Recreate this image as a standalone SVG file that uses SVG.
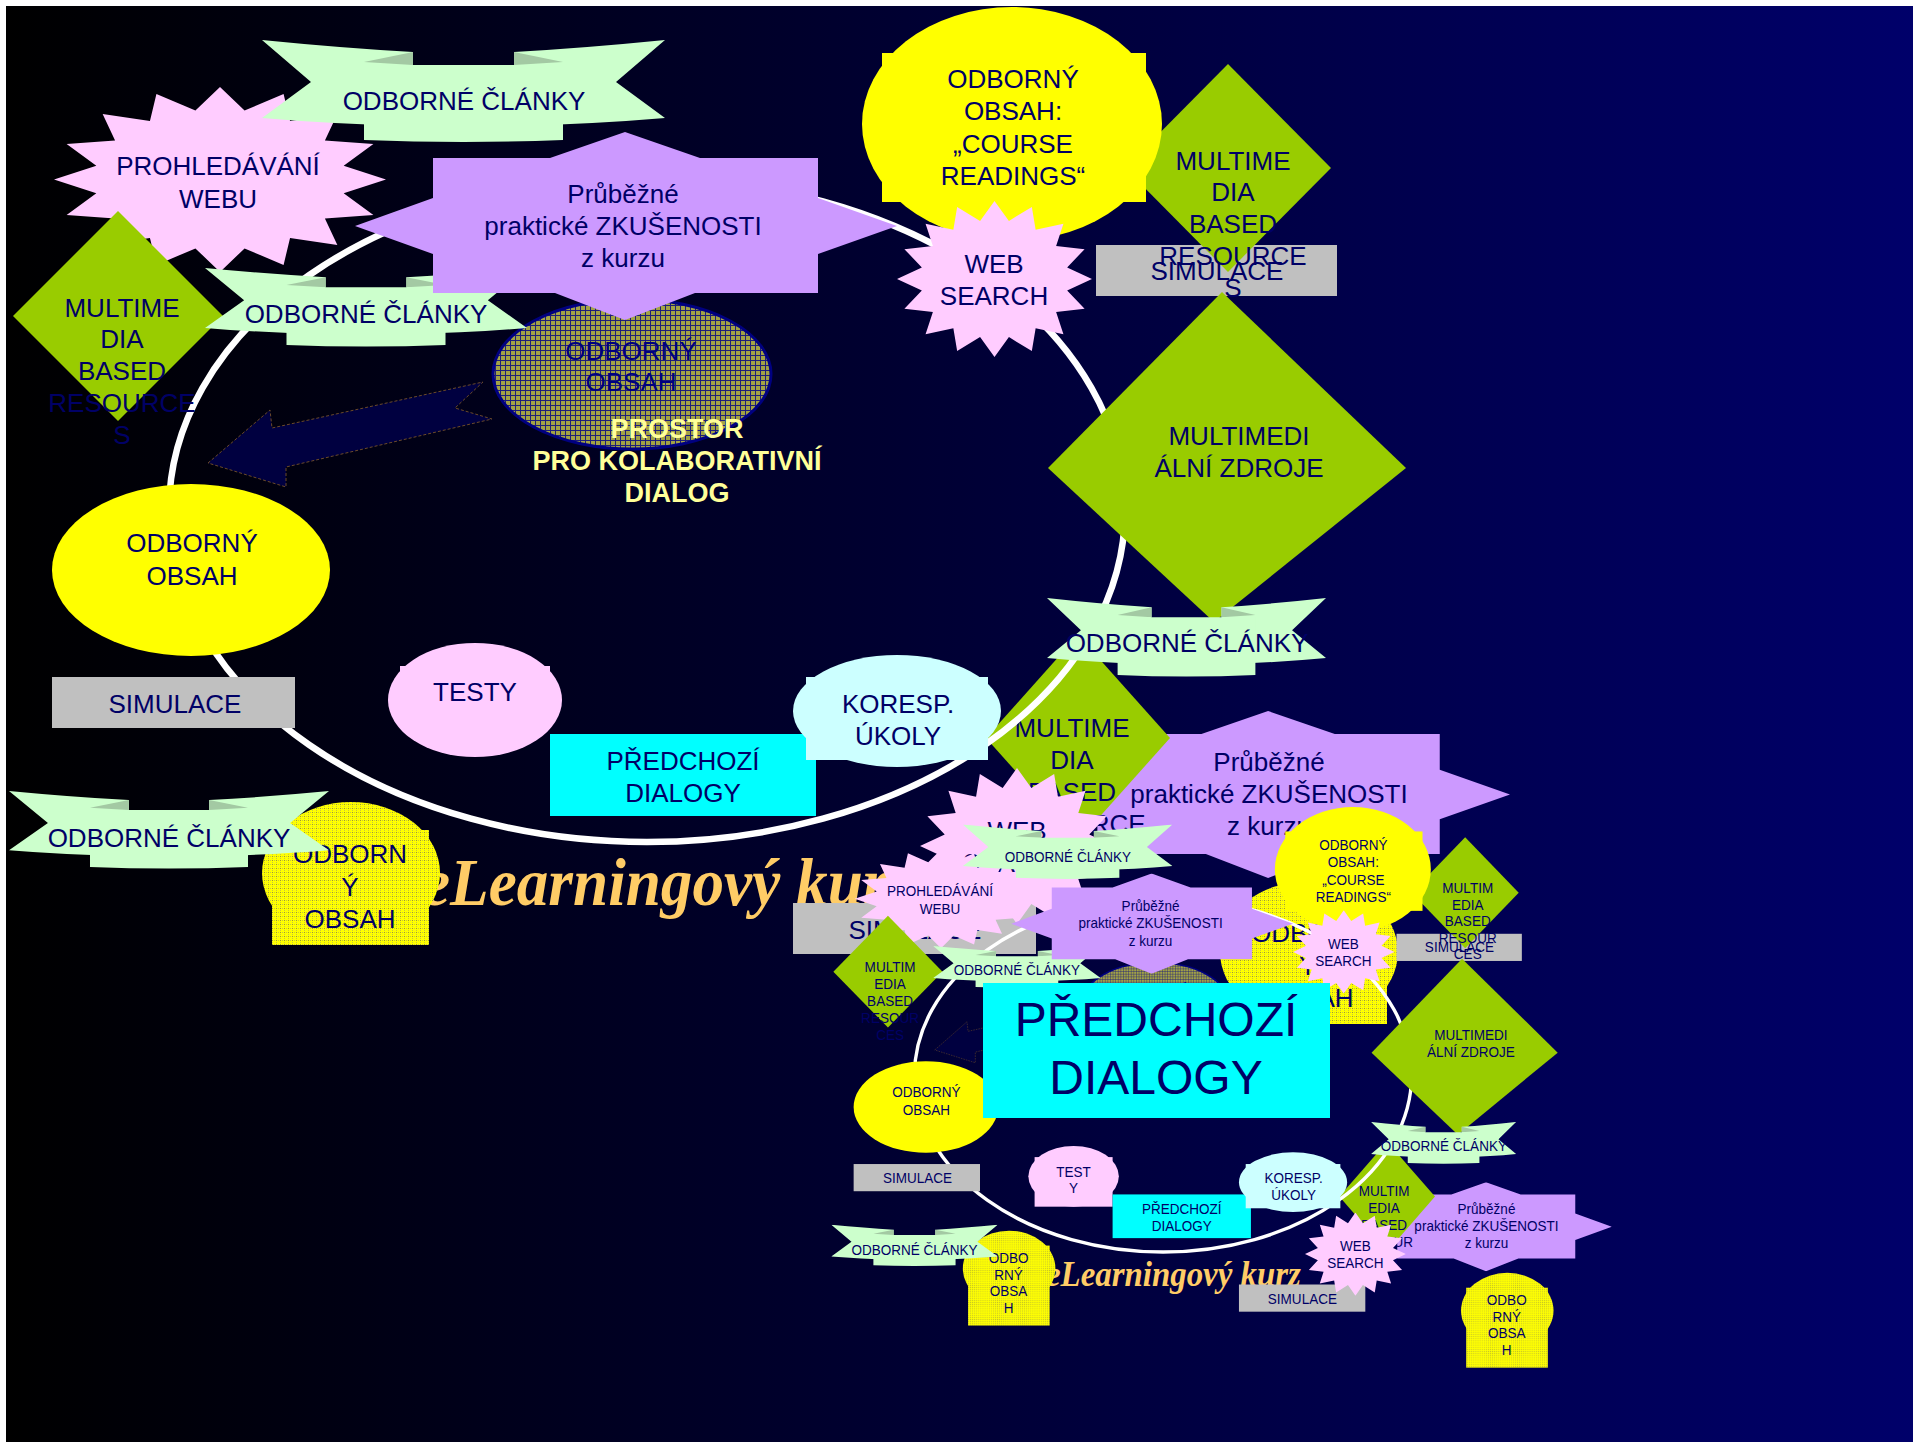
<svg xmlns="http://www.w3.org/2000/svg" width="1913" height="1442" viewBox="0 0 1913 1442">
<style>
.n{font-family:"Liberation Sans",Arial,sans-serif;font-size:26px;fill:#000066;text-anchor:middle}
.dim{fill:#000080}
.pr{font-family:"Liberation Sans",Arial,sans-serif;font-size:27px;font-weight:bold;fill:#FFFF99;text-anchor:middle}
.big{font-size:48px}
.scr{font-family:"Liberation Serif","DejaVu Serif",serif;font-style:italic;font-weight:bold;font-size:68px;fill:#FFCC66}
.yel{fill:#FFFF00}.pink{fill:#FFCCFF}.gray{fill:#C0C0C0}.grn{fill:#99CC00}.cyan{fill:#00FFFF}.lcy{fill:#CCFFFF}
.ring{fill:none;stroke:#FFFFFF;stroke-width:6.5}
.arr{fill:#000040;stroke:#6B4A2A;stroke-width:1;stroke-dasharray:3 2}
</style>
<defs>
<linearGradient id="bg" x1="0" y1="0" x2="1" y2="0"><stop offset="0" stop-color="#000000"/><stop offset="1" stop-color="#00006A"/></linearGradient>
<pattern id="pNavy" width="5" height="5" patternUnits="userSpaceOnUse"><rect width="5" height="5" fill="#A2A245"/><path d="M0,0.5H5M0.5,0V5" stroke="#1E1E78" stroke-width="1"/></pattern>
<pattern id="pYel" width="4" height="4" patternUnits="userSpaceOnUse"><rect width="4" height="4" fill="#FFFF00"/><rect width="1" height="1" fill="#9A9A30"/><rect x="2" width="1" height="1" fill="#C8C840"/><rect y="2" width="1" height="1" fill="#C8C840"/></pattern>
<symbol id="star" viewBox="-100 -100 200 200" preserveAspectRatio="none"><path fill="#FFCCFF" d="M0,-100 L14.8,-74.5 L38.3,-92.4 L42.2,-63.2 L70.7,-70.7 L63.2,-42.2 L92.4,-38.3 L74.5,-14.8 L100,0 L74.5,14.8 L92.4,38.3 L63.2,42.2 L70.7,70.7 L42.2,63.2 L38.3,92.4 L14.8,74.5 L0,100 L-14.8,74.5 L-38.3,92.4 L-42.2,63.2 L-70.7,70.7 L-63.2,42.2 L-92.4,38.3 L-74.5,14.8 L-100,0 L-74.5,-14.8 L-92.4,-38.3 L-63.2,-42.2 L-70.7,-70.7 L-42.2,-63.2 L-38.3,-92.4 L-14.8,-74.5 Z"/></symbol>
<symbol id="rib" viewBox="0 0 403 104" preserveAspectRatio="none">
<path fill="#CCFFCC" d="M0,0 Q80,8 151,12 L151,86 Q70,84 0,78 L49,42 Z"/>
<path fill="#CCFFCC" d="M403,0 Q323,8 252,12 L252,86 Q333,84 403,78 L354,42 Z"/>
<path fill="#A3C9A3" d="M102,22 L151,12 L151,25 Z"/>
<path fill="#A3C9A3" d="M301,22 L252,12 L252,25 Z"/>
<path fill="#CCFFCC" d="M102,25 L301,25 L301,100 Q201,104 102,100 Z"/>
</symbol>
<symbol id="pur" viewBox="0 0 542 188" preserveAspectRatio="none"><path fill="#CC99FF" d="M78,26 L195,26 L270,0 L345,26 L463,26 L463,66 L542,94 L463,122 L463,161 L340,161 L270,188 L200,161 L78,161 L78,122 L0,94 L78,66 Z"/></symbol>
</defs>
<rect width="1913" height="1442" fill="#FFFFFF"/>
<rect x="6" y="6" width="1907" height="1436" fill="url(#bg)"/>

<g id="main">
<g id="n-e2-prubezne"><use href="#pur" x="1028" y="711" width="482" height="167"/><text class="n"><tspan x="1269" y="771">Průběžné</tspan><tspan x="1269" y="803">praktické ZKUŠENOSTI</tspan><tspan x="1269" y="835">z kurzu</tspan></text></g>
<g id="n-e1-multimedia"><polygon class="grn" points="1078,635 1170,738 1078,841 986,738"/><text class="n"><tspan x="1072" y="737">MULTIME</tspan><tspan x="1072" y="769">DIA</tspan><tspan x="1072" y="801">BASED</tspan><tspan x="1072" y="833">RESOURCE</tspan><tspan x="1072" y="865">S</tspan></text></g>
<g id="n-obsah-hatch"><ellipse cx="632" cy="374" rx="139" ry="75" fill="url(#pNavy)" stroke="#000080" stroke-width="3"/><text class="n dim"><tspan x="631" y="360">ODBORNÝ</tspan><tspan x="631" y="391">OBSAH</tspan></text></g>
<g id="n-arrow"><polygon class="arr" points="208,463 270,410 272,428 483,382 455,408 492,419 286,467 286,487"/></g>
<g id="n-prostor"><text class="pr"><tspan x="677" y="438">PROSTOR</tspan><tspan x="677" y="470">PRO KOLABORATIVNÍ</tspan><tspan x="677" y="502">DIALOG</tspan></text></g>
<g id="connectors"><ellipse class="ring" cx="647" cy="510" rx="478" ry="332"/></g>
<g id="n-prohledavani"><use href="#star" x="54" y="87" width="332" height="185"/><text class="n"><tspan x="218" y="175">PROHLEDÁVÁNÍ</tspan><tspan x="218" y="208">WEBU</tspan></text></g>
<g id="n-clanky-a"><use href="#rib" x="262" y="40" width="403" height="104"/><text class="n" x="464" y="110">ODBORNÉ ČLÁNKY</text></g>
<g id="n-multimedia-l"><polygon class="grn" points="118,211 223,316 118,421 13,316"/><text class="n"><tspan x="122" y="317">MULTIME</tspan><tspan x="122" y="348">DIA</tspan><tspan x="122" y="380">BASED</tspan><tspan x="122" y="412">RESOURCE</tspan><tspan x="122" y="444">S</tspan></text></g>
<g id="n-clanky-b"><use href="#rib" x="205" y="268" width="322" height="80"/><text class="n" x="366" y="323">ODBORNÉ ČLÁNKY</text></g>
<g id="n-prubezne"><use href="#pur" x="355" y="132" width="542" height="188"/><text class="n"><tspan x="623" y="203">Průběžné</tspan><tspan x="623" y="235">praktické ZKUŠENOSTI</tspan><tspan x="623" y="267">z kurzu</tspan></text></g>
<g id="n-simulace-tr"><rect class="gray" x="1096" y="245" width="241" height="51"/><text class="n" x="1217" y="280">SIMULACE</text></g>
<g id="n-multimedia-tr"><polygon class="grn" points="1228,64 1331,168 1228,272 1125,168"/><text class="n"><tspan x="1233" y="170">MULTIME</tspan><tspan x="1233" y="201">DIA</tspan><tspan x="1233" y="233">BASED</tspan><tspan x="1233" y="265">RESOURCE</tspan><tspan x="1233" y="297">S</tspan></text></g>
<g id="n-course"><ellipse class="yel" cx="1012" cy="124" rx="150" ry="117"/><rect class="yel" x="882" y="53" width="264" height="149"/><text class="n"><tspan x="1013" y="88">ODBORNÝ</tspan><tspan x="1013" y="120">OBSAH:</tspan><tspan x="1013" y="153">„COURSE</tspan><tspan x="1013" y="185">READINGS“</tspan></text></g>
<g id="n-websearch"><use href="#star" x="897" y="201" width="195" height="156"/><text class="n"><tspan x="994" y="273">WEB</tspan><tspan x="994" y="305">SEARCH</tspan></text></g>
<g id="n-zdroje"><polygon class="grn" points="1222,292 1406,468 1214,622 1048,468"/><text class="n"><tspan x="1239" y="445">MULTIMEDI</tspan><tspan x="1239" y="477">ÁLNÍ ZDROJE</tspan></text></g>
<g id="n-clanky-c"><use href="#rib" x="1047" y="598" width="279" height="80"/><text class="n" x="1187" y="652">ODBORNÉ ČLÁNKY</text></g>
<g id="n-obsah-l"><ellipse class="yel" cx="191" cy="570" rx="139" ry="86"/><text class="n"><tspan x="192" y="552">ODBORNÝ</tspan><tspan x="192" y="585">OBSAH</tspan></text></g>
<g id="n-simulace-l"><rect class="gray" x="52" y="677" width="243" height="51"/><text class="n" x="175" y="713">SIMULACE</text></g>
<g id="n-testy"><ellipse class="pink" cx="475" cy="700" rx="87" ry="57"/><rect class="pink" x="400" y="666" width="150" height="58"/><text class="n" x="475" y="701">TESTY</text></g>
<g id="n-predchozi"><rect class="cyan" x="550" y="734" width="266" height="82"/><text class="n"><tspan x="683" y="770">PŘEDCHOZÍ</tspan><tspan x="683" y="802">DIALOGY</tspan></text></g>
<g id="n-koresp"><ellipse class="lcy" cx="897" cy="711" rx="104" ry="56"/><rect class="lcy" x="806" y="677" width="182" height="83"/><text class="n"><tspan x="898" y="713">KORESP.</tspan><tspan x="898" y="745">ÚKOLY</tspan></text></g>
<g id="n-kurz"><text class="scr" x="422" y="905" textLength="490" lengthAdjust="spacingAndGlyphs">eLearningový kurz</text></g>
<g id="n-obsah-bl"><ellipse cx="351" cy="873" rx="89" ry="71" fill="url(#pYel)"/><rect x="272" y="830" width="157" height="115" fill="url(#pYel)"/><text class="n"><tspan x="350" y="863">ODBORN</tspan><tspan x="350" y="896">Ý</tspan><tspan x="350" y="928">OBSAH</tspan></text></g>
<g id="n-clanky-d"><use href="#rib" x="9" y="791" width="320" height="79"/><text class="n" x="169" y="847">ODBORNÉ ČLÁNKY</text></g>
<g id="n-e5-obsah"><ellipse cx="1309" cy="952" rx="89" ry="71" fill="url(#pYel)"/><rect x="1230" y="909" width="157" height="115" fill="url(#pYel)"/><text class="n"><tspan x="1308" y="942">ODBORN</tspan><tspan x="1308" y="975">Ý</tspan><tspan x="1308" y="1007">OBSAH</tspan></text></g>
<g id="n-e4-simulace"><rect class="gray" x="793" y="903" width="243" height="51"/><text class="n" x="915" y="939">SIMULACE</text></g>
<g id="n-e3-web"><use href="#star" x="920" y="768" width="194" height="156"/><text class="n"><tspan x="1017" y="840">WEB</tspan><tspan x="1017" y="872">SEARCH</tspan></text></g>
</g>

<g id="small" transform="translate(826.6,803.2) scale(0.52,0.533)">
<g id="s-e2-prubezne"><use href="#pur" x="1028" y="711" width="482" height="167"/><text class="n"><tspan x="1269" y="771">Průběžné</tspan><tspan x="1269" y="803">praktické ZKUŠENOSTI</tspan><tspan x="1269" y="835">z kurzu</tspan></text></g>
<g id="s-e1-multimedia"><polygon class="grn" points="1078,635 1170,738 1078,841 986,738"/><text class="n"><tspan x="1072" y="737">MULTIM</tspan><tspan x="1072" y="769">EDIA</tspan><tspan x="1072" y="801">BASED</tspan><tspan x="1072" y="833">RESOUR</tspan><tspan x="1072" y="865">CES</tspan></text></g>
<g id="s-obsah-hatch"><ellipse cx="632" cy="374" rx="139" ry="75" fill="url(#pNavy)" stroke="#000080" stroke-width="3"/><text class="n dim"><tspan x="631" y="360">ODBORNÝ</tspan><tspan x="631" y="391">OBSAH</tspan></text></g>
<g id="s-arrow"><polygon class="arr" points="208,463 270,410 272,428 483,382 455,408 492,419 286,467 286,487"/></g>
<g id="s-prostor"><text class="pr"><tspan x="677" y="438">PROSTOR</tspan><tspan x="677" y="470">PRO KOLABORATIVNÍ</tspan><tspan x="677" y="502">DIALOG</tspan></text></g>
<g id="s-connectors"><ellipse class="ring" cx="647" cy="510" rx="478" ry="332"/></g>
<g id="s-prohledavani"><use href="#star" x="54" y="87" width="332" height="185"/><text class="n"><tspan x="218" y="175">PROHLEDÁVÁNÍ</tspan><tspan x="218" y="208">WEBU</tspan></text></g>
<g id="s-clanky-a"><use href="#rib" x="262" y="40" width="403" height="104"/><text class="n" x="464" y="110">ODBORNÉ ČLÁNKY</text></g>
<g id="s-multimedia-l"><polygon class="grn" points="118,211 223,316 118,421 13,316"/><text class="n"><tspan x="122" y="317">MULTIM</tspan><tspan x="122" y="348">EDIA</tspan><tspan x="122" y="380">BASED</tspan><tspan x="122" y="412">RESOUR</tspan><tspan x="122" y="444">CES</tspan></text></g>
<g id="s-clanky-b"><use href="#rib" x="205" y="268" width="322" height="80"/><text class="n" x="366" y="323">ODBORNÉ ČLÁNKY</text></g>
<g id="s-prubezne"><use href="#pur" x="355" y="132" width="542" height="188"/><text class="n"><tspan x="623" y="203">Průběžné</tspan><tspan x="623" y="235">praktické ZKUŠENOSTI</tspan><tspan x="623" y="267">z kurzu</tspan></text></g>
<g id="s-simulace-tr"><rect class="gray" x="1096" y="245" width="241" height="51"/><text class="n" x="1217" y="280">SIMULACE</text></g>
<g id="s-multimedia-tr"><polygon class="grn" points="1228,64 1331,168 1228,272 1125,168"/><text class="n"><tspan x="1233" y="169">MULTIM</tspan><tspan x="1233" y="200">EDIA</tspan><tspan x="1233" y="231">BASED</tspan><tspan x="1233" y="262">RESOUR</tspan><tspan x="1233" y="293">CES</tspan></text></g>
<g id="s-course"><ellipse class="yel" cx="1012" cy="124" rx="150" ry="117"/><rect class="yel" x="882" y="53" width="264" height="149"/><text class="n"><tspan x="1013" y="88">ODBORNÝ</tspan><tspan x="1013" y="120">OBSAH:</tspan><tspan x="1013" y="153">„COURSE</tspan><tspan x="1013" y="185">READINGS“</tspan></text></g>
<g id="s-websearch"><use href="#star" x="897" y="201" width="195" height="156"/><text class="n"><tspan x="994" y="273">WEB</tspan><tspan x="994" y="305">SEARCH</tspan></text></g>
<g id="s-zdroje"><polygon class="grn" points="1222,292 1406,468 1214,622 1048,468"/><text class="n"><tspan x="1239" y="445">MULTIMEDI</tspan><tspan x="1239" y="477">ÁLNÍ ZDROJE</tspan></text></g>
<g id="s-clanky-c"><use href="#rib" x="1047" y="598" width="279" height="80"/><text class="n" x="1187" y="652">ODBORNÉ ČLÁNKY</text></g>
<g id="s-obsah-l"><ellipse class="yel" cx="191" cy="570" rx="139" ry="86"/><text class="n"><tspan x="192" y="552">ODBORNÝ</tspan><tspan x="192" y="585">OBSAH</tspan></text></g>
<g id="s-simulace-l"><rect class="gray" x="52" y="677" width="243" height="51"/><text class="n" x="175" y="713">SIMULACE</text></g>
<g id="s-testy"><ellipse class="pink" cx="475" cy="700" rx="87" ry="57"/><rect class="pink" x="400" y="664" width="150" height="93"/><text class="n"><tspan x="475" y="701">TEST</tspan><tspan x="475" y="732">Y</tspan></text></g>
<g id="s-predchozi"><rect class="cyan" x="550" y="734" width="266" height="82"/><text class="n"><tspan x="683" y="770">PŘEDCHOZÍ</tspan><tspan x="683" y="802">DIALOGY</tspan></text></g>
<g id="s-koresp"><ellipse class="lcy" cx="897" cy="711" rx="104" ry="56"/><rect class="lcy" x="806" y="677" width="182" height="83"/><text class="n"><tspan x="898" y="713">KORESP.</tspan><tspan x="898" y="745">ÚKOLY</tspan></text></g>
<g id="s-kurz"><text class="scr" x="422" y="905" textLength="490" lengthAdjust="spacingAndGlyphs">eLearningový kurz</text></g>
<g id="s-obsah-bl"><ellipse cx="351" cy="873" rx="89" ry="71" fill="url(#pYel)"/><rect x="272" y="830" width="157" height="150" fill="url(#pYel)"/><text class="n"><tspan x="350" y="863">ODBO</tspan><tspan x="350" y="894">RNÝ</tspan><tspan x="350" y="925">OBSA</tspan><tspan x="350" y="956">H</tspan></text></g>
<g id="s-clanky-d"><use href="#rib" x="9" y="791" width="320" height="79"/><text class="n" x="169" y="847">ODBORNÉ ČLÁNKY</text></g>
<g id="s-e5-obsah"><ellipse cx="1309" cy="952" rx="89" ry="71" fill="url(#pYel)"/><rect x="1230" y="909" width="157" height="150" fill="url(#pYel)"/><text class="n"><tspan x="1308" y="942">ODBO</tspan><tspan x="1308" y="973">RNÝ</tspan><tspan x="1308" y="1004">OBSA</tspan><tspan x="1308" y="1035">H</tspan></text></g>
<g id="s-e4-simulace"><rect class="gray" x="793" y="903" width="243" height="51"/><text class="n" x="915" y="939">SIMULACE</text></g>
<g id="s-e3-web"><use href="#star" x="920" y="768" width="194" height="156"/><text class="n"><tspan x="1017" y="840">WEB</tspan><tspan x="1017" y="872">SEARCH</tspan></text></g>
</g>

<g id="n-predchozi-big"><rect class="cyan" x="983" y="983" width="347" height="135"/><text class="n big"><tspan x="1156" y="1036">PŘEDCHOZÍ</tspan><tspan x="1156" y="1094">DIALOGY</tspan></text></g>
</svg>
